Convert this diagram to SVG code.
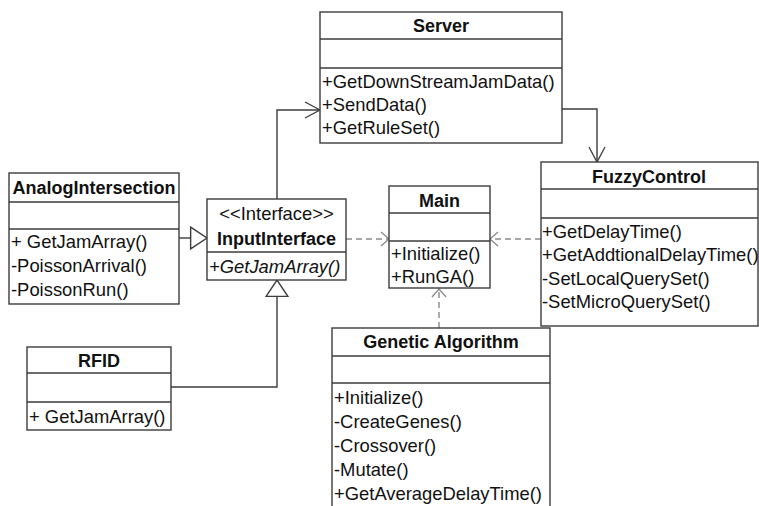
<svg xmlns="http://www.w3.org/2000/svg" width="759" height="506" viewBox="0 0 759 506">
  <defs>
    <style>
      .box { fill: #ffffff; stroke: #3c3c3c; stroke-width: 1.4; }
      .sep { stroke: #3c3c3c; stroke-width: 1.4; }
      .t { font-family: "Liberation Sans", Arial, sans-serif; font-size: 18.4px; fill: #111111; }
      .title { font-weight: bold; font-size: 18px; text-anchor: middle; }
      .it { font-style: italic; }
      .solid { fill: none; stroke: #3c3c3c; stroke-width: 1.4; }
      .dash { fill: none; stroke: #8a8a8a; stroke-width: 1.4; stroke-dasharray: 6 4; }
    </style>
    <!-- open arrowhead for associations -->
    <marker id="open" markerUnits="userSpaceOnUse" markerWidth="20" markerHeight="20" refX="0" refY="0" viewBox="-16 -10 18 20" orient="auto">
      <path d="M-15,-8 L0,0 L-15,8" fill="none" stroke="#3c3c3c" stroke-width="1.3"/>
    </marker>
    <!-- small open arrowhead for dependencies -->
    <marker id="dep" markerUnits="userSpaceOnUse" markerWidth="12" markerHeight="18" refX="0" refY="0" viewBox="-10 -9 12 18" orient="auto">
      <path d="M-8,-7 L0,0 L-8,7" fill="none" stroke="#8a8a8a" stroke-width="1.3"/>
    </marker>
    <!-- hollow triangle for realization -->
    <marker id="tri" markerUnits="userSpaceOnUse" markerWidth="20" markerHeight="24" refX="0" refY="0" viewBox="-16 -11 18 22" orient="auto">
      <path d="M-15,-10 L0,0 L-15,10 Z" fill="#ffffff" stroke="#3c3c3c" stroke-width="1.3"/>
    </marker>
  </defs>

  <rect width="759" height="506" fill="#ffffff"/>

  <!-- connectors -->
  <g id="connectors">
    <path class="solid" d="M277,199 L277,110 L320,110" marker-end="url(#open)"/>
    <path class="solid" d="M562,109 L597,109 L597,162" marker-end="url(#open)"/>
    <path class="solid" d="M179,238 L207,238" marker-end="url(#tri)"/>
    <path class="solid" d="M171,387 L277,387 L277,280" marker-end="url(#tri)"/>
    <path class="dash" d="M346,239 L389,239" marker-end="url(#dep)"/>
    <path class="dash" d="M541,239 L490,239" marker-end="url(#dep)"/>
    <path class="dash" d="M439,328 L439,289" marker-end="url(#dep)"/>
  </g>

  <!-- Server -->
  <g id="server">
    <rect class="box" x="320" y="12" width="242" height="131"/>
    <line class="sep" x1="320" y1="39" x2="562" y2="39"/>
    <line class="sep" x1="320" y1="68" x2="562" y2="68"/>
    <text class="t title" x="441" y="32">Server</text>
    <text class="t" x="322" y="88">+GetDownStreamJamData()</text>
    <text class="t" x="322" y="111">+SendData()</text>
    <text class="t" x="322" y="134">+GetRuleSet()</text>
  </g>

  <!-- FuzzyControl -->
  <g id="fuzzycontrol">
    <rect class="box" x="541" y="162" width="217" height="164"/>
    <line class="sep" x1="541" y1="189" x2="758" y2="189"/>
    <line class="sep" x1="541" y1="218" x2="758" y2="218"/>
    <text class="t title" x="649" y="183">FuzzyControl</text>
    <text class="t" x="542" y="237.5">+GetDelayTime()</text>
    <text class="t" x="542" y="261">+GetAddtionalDelayTime()</text>
    <text class="t" x="542" y="284.5">-SetLocalQuerySet()</text>
    <text class="t" x="542" y="308">-SetMicroQuerySet()</text>
  </g>

  <!-- AnalogIntersection -->
  <g id="analogintersection">
    <rect class="box" x="9" y="173" width="170" height="131"/>
    <line class="sep" x1="9" y1="202" x2="179" y2="202"/>
    <line class="sep" x1="9" y1="229" x2="179" y2="229"/>
    <text class="t title" x="94" y="194">AnalogIntersection</text>
    <text class="t" x="11" y="248">+ GetJamArray()</text>
    <text class="t" x="11" y="272">-PoissonArrival()</text>
    <text class="t" x="11" y="296">-PoissonRun()</text>
  </g>

  <!-- InputInterface -->
  <g id="inputinterface">
    <rect class="box" x="207" y="199" width="139" height="81"/>
    <line class="sep" x1="207" y1="252" x2="346" y2="252"/>
    <text class="t" x="276.5" y="220" text-anchor="middle">&lt;&lt;Interface&gt;&gt;</text>
    <text class="t title" x="276.5" y="245">InputInterface</text>
    <text class="t it" x="209" y="273">+GetJamArray()</text>
  </g>

  <!-- Main -->
  <g id="main">
    <rect class="box" x="389" y="186" width="101" height="102"/>
    <line class="sep" x1="389" y1="213" x2="490" y2="213"/>
    <line class="sep" x1="389" y1="241" x2="490" y2="241"/>
    <text class="t title" x="439.5" y="207">Main</text>
    <text class="t" x="391" y="260">+Initialize()</text>
    <text class="t" x="391" y="283">+RunGA()</text>
  </g>

  <!-- RFID -->
  <g id="rfid">
    <rect class="box" x="27" y="347" width="144" height="83"/>
    <line class="sep" x1="27" y1="373" x2="171" y2="373"/>
    <line class="sep" x1="27" y1="402" x2="171" y2="402"/>
    <text class="t title" x="99" y="367">RFID</text>
    <text class="t" x="29" y="423">+ GetJamArray()</text>
  </g>

  <!-- Genetic Algorithm (continues below the lower edge) -->
  <g id="geneticalgorithm">
    <rect class="box" x="332" y="328" width="218" height="190"/>
    <line class="sep" x1="332" y1="356" x2="550" y2="356"/>
    <line class="sep" x1="332" y1="383" x2="550" y2="383"/>
    <text class="t title" x="441" y="348">Genetic Algorithm</text>
    <text class="t" x="334" y="404">+Initialize()</text>
    <text class="t" x="334" y="428">-CreateGenes()</text>
    <text class="t" x="334" y="452">-Crossover()</text>
    <text class="t" x="334" y="476">-Mutate()</text>
    <text class="t" x="334" y="500">+GetAverageDelayTime()</text>
  </g>
</svg>
